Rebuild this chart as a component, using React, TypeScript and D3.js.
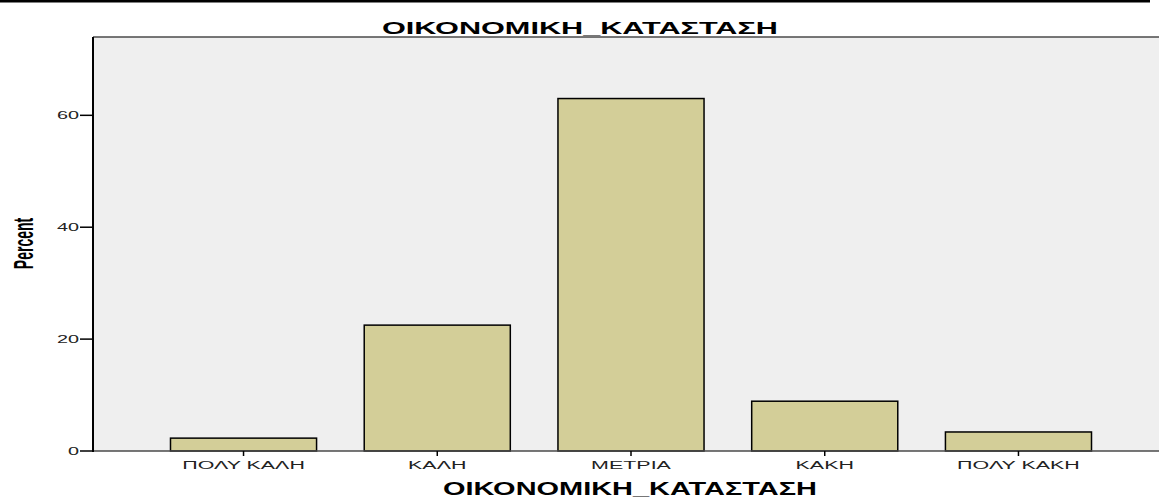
import React from "react";
import * as d3 from "d3";

const categories = ["ΠΟΛΥ ΚΑΛΗ", "ΚΑΛΗ", "ΜΕΤΡΙΑ", "ΚΑΚΗ", "ΠΟΛΥ ΚΑΚΗ"];
const percents = [2.3, 22.5, 63.0, 8.9, 3.4];
const yTicks = [0, 20, 40, 60];
const title = "ΟΙΚΟΝΟΜΙΚΗ_ΚΑΤΑΣΤΑΣΗ";
const yTitle = "Percent";

const W = 1159;
const H = 498;
// plot frame (right side is cut off in the picture)
const left = 93;
const top = 37;
const bottom = 451;
const right = 1169;
const stretch = 1.7; // text looks widened horizontally

const App = () => {
  const x = d3
    .scaleBand<string>()
    .domain(categories)
    .range([left, right])
    .paddingInner(0.246)
    .paddingOuter(0.4);
  const y = d3.scaleLinear().domain([0, 74]).range([bottom, top]);

  const font = "Arial, 'Liberation Sans', sans-serif";

  return (
    <svg
      width={W}
      height={H}
      style={{ position: "absolute", left: 0, top: 0, display: "block" }}
    >
      <rect x={0} y={0} width={W} height={H} fill="#ffffff" />
      <line x1={0} x2={1150} y1={1.2} y2={1.2} stroke="#000" strokeWidth={2.5} />

      <text
        x={580}
        y={34}
        textAnchor="middle"
        fontFamily={font}
        fontWeight="bold"
        fontSize={17}
        textLength={396}
        lengthAdjust="spacingAndGlyphs"
      >
        {title}
      </text>

      {/* plot background */}
      <rect x={left} y={top} width={W - left} height={bottom - top} fill="#efefef" />
      <line x1={left} x2={W} y1={top} y2={top} stroke="#4a4a4a" strokeWidth={1.5} />

      {categories.map((c, i) => (
        <rect
          key={c}
          x={x(c)}
          y={y(percents[i])}
          width={x.bandwidth()}
          height={bottom - y(percents[i])}
          fill="#d3ce98"
          stroke="#000"
          strokeWidth={1.5}
        />
      ))}

      <line x1={left} x2={W} y1={bottom} y2={bottom} stroke="#4a4a4a" strokeWidth={1.5} />
      <line x1={left} x2={left} y1={top} y2={bottom + 1} stroke="#000" strokeWidth={2} />

      {/* y axis */}
      {yTicks.map(t => (
        <g key={t} transform={`translate(0,${y(t)})`}>
          <line x1={80} x2={left} y1={0} y2={0} stroke="#000" strokeWidth={1.5} />
          <text
            transform={`translate(79,4) scale(1.8,1)`}
            textAnchor="end"
            fontFamily={font}
            fontSize={11}
            fill="#222"
          >
            {t}
          </text>
        </g>
      ))}

      {/* x axis */}
      {categories.map(c => {
        const cx = (x(c) || 0) + x.bandwidth() / 2;
        return (
          <g key={c} transform={`translate(${cx},${bottom})`}>
            <line x1={0} x2={0} y1={0} y2={5} stroke="#000" strokeWidth={1.5} />
            <text
              transform={`translate(0,18) scale(1.95,1)`}
              textAnchor="middle"
              fontFamily={font}
              fontSize={11}
              fill="#222"
            >
              {c}
            </text>
          </g>
        );
      })}

      <text
        x={630}
        y={495}
        textAnchor="middle"
        fontFamily={font}
        fontWeight="bold"
        fontSize={18}
        textLength={374}
        lengthAdjust="spacingAndGlyphs"
      >
        {title}
      </text>

      <text
        transform={`translate(33,243.5) scale(${stretch + 0.3},1) rotate(-90)`}
        textAnchor="middle"
        fontFamily={font}
        fontWeight="bold"
        fontSize={14}
      >
        {yTitle}
      </text>
    </svg>
  );
};

export default App;
